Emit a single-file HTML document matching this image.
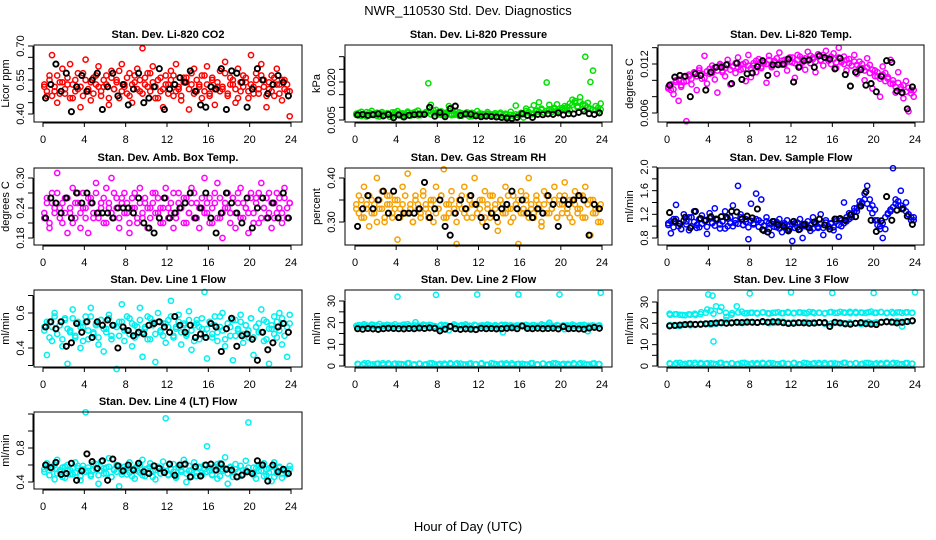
<!DOCTYPE html>
<html><head><meta charset="utf-8"><style>
body{margin:0;background:#fff;}
svg{display:block;font-family:"Liberation Sans",sans-serif;}
</style></head><body>
<svg id="chart" width="936" height="540" viewBox="0 0 936 540" xmlns="http://www.w3.org/2000/svg">
<rect width="936" height="540" fill="#fff"/>
<text x="468" y="15" text-anchor="middle" font-size="13">NWR_110530  Std. Dev. Diagnostics</text>
<text x="468" y="531" text-anchor="middle" font-size="13">Hour of Day (UTC)</text>
</svg>
<script>
const xTicks = [0,4,8,12,16,20,24];
const co2Vals = [0.52,0.48,0.57,0.66,0.50,0.45,0.54,0.60,0.49,0.53,0.62,0.47,0.55,0.51,0.43,0.58,0.64,0.50,0.46,0.56,0.53,0.61,0.48,0.52,0.57,0.44,0.59,0.51,0.55,0.47,0.62,0.53,0.49,0.58,0.45,0.54,0.60,0.50,0.69,0.56,0.52,0.58,0.61,0.47,0.55,0.50,0.43,0.57,0.53,0.59,0.48,0.62,0.51,0.46,0.56,0.54,0.42,0.58,0.60,0.50,0.53,0.47,0.57,0.61,0.49,0.55,0.44,0.52,0.59,0.51,0.63,0.48,0.56,0.53,0.45,0.60,0.50,0.57,0.54,0.47,0.66,0.52,0.58,0.49,0.62,0.55,0.43,0.51,0.57,0.48,0.60,0.53,0.46,0.55,0.50,0.39];
const co2Vals2 = [0.53,0.50,0.55,0.48,0.52,0.57,0.49,0.54,0.51,0.56,0.47,0.53,0.50,0.58,0.52,0.48,0.55,0.51,0.54,0.49,0.57,0.52,0.50,0.55,0.53,0.47,0.56,0.51,0.54,0.59,0.50,0.52,0.56,0.48,0.53,0.57,0.51,0.55,0.49,0.53,0.58,0.50,0.54,0.52,0.47,0.56,0.51,0.53,0.49,0.55,0.57,0.50,0.52,0.48,0.54,0.56,0.51,0.53,0.49,0.55,0.52,0.57,0.50,0.53,0.48,0.56,0.51,0.54,0.50,0.52,0.58,0.49,0.53,0.55,0.51,0.47,0.54,0.52,0.56,0.50,0.53,0.49,0.55,0.51,0.57,0.52,0.48,0.54,0.50,0.56,0.53,0.49,0.55,0.51,0.53,0.50];
const co2Avg = [0.47,0.53,0.62,0.50,0.58,0.41,0.52,0.57,0.50,0.55,0.58,0.42,0.52,0.58,0.48,0.53,0.44,0.51,0.58,0.45,0.47,0.52,0.60,0.42,0.51,0.53,0.56,0.54,0.59,0.50,0.44,0.43,0.52,0.51,0.60,0.42,0.59,0.58,0.54,0.43,0.51,0.60,0.55,0.49,0.53,0.57,0.54,0.48];
const presVals = [0.0075,0.0068,0.0082,0.0071,0.0064,0.0079,0.0086,0.0070,0.0066,0.0077,0.0081,0.0069,0.0074,0.0063,0.0080,0.0072,0.0085,0.0068,0.0076,0.0070,0.0083,0.0066,0.0078,0.0073,0.0087,0.0069,0.0075,0.0081,0.0195,0.0110,0.0077,0.0090,0.0072,0.0084,0.0068,0.0079,0.0105,0.0074,0.0070,0.0083,0.0066,0.0076,0.0072,0.0080,0.0064,0.0078,0.0071,0.0085,0.0069,0.0074,0.0067,0.0081,0.0073,0.0070,0.0077,0.0063,0.0079,0.0068,0.0075,0.0062,0.0082,0.0066,0.0107,0.0071,0.0076,0.0060,0.0095,0.0081,0.0072,0.0108,0.0085,0.0120,0.0090,0.0079,0.0198,0.0110,0.0088,0.0094,0.0112,0.0083,0.0097,0.0105,0.0089,0.0115,0.0130,0.0125,0.0099,0.0140,0.0092,0.0300,0.0118,0.0200,0.0245,0.0105,0.0098,0.0115];
const presVals2 = [0.0070,0.0078,0.0066,0.0073,0.0081,0.0068,0.0075,0.0071,0.0079,0.0064,0.0074,0.0069,0.0077,0.0072,0.0067,0.0080,0.0070,0.0076,0.0065,0.0073,0.0078,0.0069,0.0074,0.0082,0.0068,0.0075,0.0071,0.0079,0.0084,0.0072,0.0088,0.0076,0.0081,0.0070,0.0078,0.0073,0.0085,0.0069,0.0076,0.0072,0.0080,0.0067,0.0074,0.0070,0.0077,0.0065,0.0073,0.0069,0.0076,0.0071,0.0068,0.0074,0.0066,0.0072,0.0070,0.0065,0.0073,0.0068,0.0071,0.0064,0.0070,0.0067,0.0072,0.0069,0.0078,0.0072,0.0085,0.0080,0.0091,0.0076,0.0088,0.0083,0.0095,0.0079,0.0086,0.0092,0.0081,0.0098,0.0087,0.0084,0.0090,0.0096,0.0102,0.0088,0.0110,0.0118,0.0105,0.0122,0.0112,0.0108,0.0100,0.0095,0.0090,0.0088,0.0085,0.0092];
const presAvg = [0.0070,0.0072,0.0068,0.0071,0.0074,0.0066,0.0072,0.0059,0.0070,0.0062,0.0069,0.0071,0.0073,0.0072,0.0100,0.0065,0.0080,0.0063,0.0095,0.0105,0.0068,0.0074,0.0073,0.0066,0.0063,0.0065,0.0064,0.0062,0.0060,0.0058,0.0056,0.0060,0.0075,0.0068,0.0060,0.0072,0.0071,0.0074,0.0072,0.0078,0.0070,0.0075,0.0074,0.0080,0.0085,0.0075,0.0072,0.0078];
const tempVals = [0.0090,0.0088,0.0083,0.0100,0.0075,0.0092,0.0098,0.0050,0.0105,0.0095,0.0110,0.0088,0.0115,0.0102,0.0130,0.0096,0.0108,0.0118,0.0101,0.0085,0.0120,0.0112,0.0105,0.0125,0.0095,0.0117,0.0109,0.0128,0.0113,0.0120,0.0099,0.0131,0.0104,0.0118,0.0110,0.0126,0.0115,0.0121,0.0097,0.0130,0.0116,0.0124,0.0108,0.0134,0.0119,0.0125,0.0112,0.0128,0.0122,0.0103,0.0131,0.0117,0.0126,0.0113,0.0135,0.0121,0.0128,0.0110,0.0132,0.0124,0.0118,0.0136,0.0127,0.0120,0.0133,0.0115,0.0140,0.0122,0.0129,0.0112,0.0126,0.0118,0.0131,0.0108,0.0123,0.0115,0.0100,0.0127,0.0119,0.0090,0.0112,0.0105,0.0080,0.0117,0.0109,0.0102,0.0125,0.0096,0.0085,0.0110,0.0092,0.0078,0.0099,0.0062,0.0088,0.0080];
const tempVals2 = [0.0092,0.0095,0.0089,0.0098,0.0101,0.0094,0.0104,0.0099,0.0107,0.0102,0.0109,0.0105,0.0112,0.0108,0.0103,0.0111,0.0114,0.0109,0.0116,0.0112,0.0118,0.0110,0.0115,0.0120,0.0113,0.0117,0.0121,0.0116,0.0119,0.0114,0.0122,0.0118,0.0115,0.0121,0.0124,0.0119,0.0117,0.0123,0.0120,0.0125,0.0118,0.0122,0.0127,0.0121,0.0124,0.0119,0.0126,0.0123,0.0128,0.0121,0.0125,0.0129,0.0122,0.0127,0.0124,0.0130,0.0126,0.0123,0.0129,0.0125,0.0131,0.0127,0.0124,0.0129,0.0126,0.0122,0.0128,0.0124,0.0120,0.0125,0.0121,0.0118,0.0123,0.0119,0.0115,0.0120,0.0112,0.0116,0.0109,0.0113,0.0105,0.0110,0.0102,0.0107,0.0099,0.0104,0.0096,0.0100,0.0092,0.0097,0.0089,0.0094,0.0086,0.0091,0.0084,0.0088];
const tempAvg = [0.0094,0.0104,0.0106,0.0105,0.0080,0.0108,0.0106,0.0088,0.0110,0.0116,0.0116,0.0119,0.0096,0.0121,0.0101,0.0108,0.0109,0.0117,0.0124,0.0106,0.0119,0.0119,0.0120,0.0126,0.0098,0.0116,0.0124,0.0125,0.0116,0.0130,0.0128,0.0126,0.0114,0.0127,0.0107,0.0093,0.0110,0.0113,0.0094,0.0096,0.0086,0.0105,0.0124,0.0122,0.0087,0.0085,0.0065,0.0092];
const ambVals = [0.22,0.25,0.20,0.27,0.23,0.31,0.24,0.21,0.26,0.19,0.23,0.28,0.22,0.25,0.20,0.27,0.24,0.19,0.26,0.22,0.29,0.23,0.25,0.21,0.28,0.24,0.30,0.22,0.26,0.20,0.25,0.27,0.23,0.19,0.26,0.24,0.21,0.28,0.22,0.25,0.20,0.24,0.27,0.23,0.26,0.21,0.24,0.28,0.22,0.25,0.20,0.23,0.27,0.24,0.21,0.26,0.23,0.28,0.22,0.25,0.20,0.24,0.30,0.23,0.26,0.21,0.25,0.29,0.22,0.18,0.24,0.27,0.23,0.26,0.20,0.25,0.28,0.22,0.24,0.19,0.27,0.23,0.26,0.21,0.29,0.24,0.22,0.27,0.20,0.25,0.23,0.26,0.21,0.28,0.24,0.25];
const ambVals2 = [0.23,0.26,0.21,0.25,0.24,0.27,0.22,0.25,0.23,0.26,0.24,0.21,0.25,0.27,0.23,0.24,0.22,0.26,0.25,0.23,0.27,0.22,0.24,0.26,0.21,0.25,0.23,0.27,0.24,0.22,0.26,0.23,0.25,0.21,0.24,0.27,0.22,0.25,0.23,0.26,0.24,0.22,0.25,0.27,0.23,0.24,0.21,0.26,0.24,0.23,0.27,0.22,0.25,0.24,0.26,0.21,0.23,0.25,0.27,0.22,0.24,0.26,0.23,0.25,0.21,0.24,0.27,0.22,0.26,0.23,0.25,0.24,0.21,0.26,0.23,0.27,0.22,0.25,0.24,0.23,0.26,0.21,0.25,0.27,0.22,0.24,0.26,0.23,0.25,0.22,0.27,0.24,0.23,0.26,0.22,0.25];
const ambAvg = [0.22,0.26,0.25,0.23,0.26,0.22,0.27,0.25,0.27,0.25,0.23,0.23,0.23,0.22,0.24,0.24,0.24,0.23,0.26,0.21,0.20,0.19,0.22,0.26,0.22,0.23,0.24,0.25,0.27,0.22,0.24,0.27,0.22,0.19,0.23,0.27,0.25,0.23,0.21,0.26,0.20,0.24,0.26,0.22,0.25,0.22,0.27,0.22];
const rhVals = [0.33,0.36,0.31,0.38,0.34,0.29,0.35,0.32,0.40,0.33,0.37,0.30,0.34,0.36,0.31,0.35,0.26,0.33,0.38,0.32,0.41,0.34,0.30,0.36,0.33,0.31,0.37,0.34,0.32,0.35,0.30,0.38,0.33,0.36,0.42,0.31,0.34,0.37,0.32,0.25,0.35,0.33,0.38,0.31,0.36,0.34,0.40,0.32,0.35,0.30,0.37,0.33,0.31,0.36,0.34,0.28,0.35,0.32,0.38,0.33,0.30,0.36,0.34,0.25,0.37,0.32,0.35,0.40,0.33,0.31,0.36,0.34,0.29,0.37,0.32,0.35,0.33,0.38,0.31,0.36,0.34,0.39,0.32,0.35,0.30,0.37,0.33,0.36,0.31,0.38,0.34,0.27,0.35,0.32,0.33,0.30];
const rhVals2 = [0.34,0.32,0.35,0.31,0.33,0.36,0.32,0.34,0.30,0.35,0.33,0.31,0.36,0.34,0.32,0.33,0.35,0.31,0.34,0.36,0.32,0.33,0.30,0.35,0.34,0.32,0.36,0.33,0.31,0.34,0.35,0.32,0.33,0.36,0.31,0.34,0.32,0.35,0.33,0.30,0.34,0.36,0.32,0.33,0.35,0.31,0.34,0.32,0.33,0.35,0.31,0.34,0.36,0.32,0.33,0.30,0.35,0.34,0.32,0.36,0.33,0.31,0.34,0.35,0.32,0.33,0.36,0.31,0.34,0.32,0.35,0.33,0.30,0.34,0.36,0.32,0.33,0.35,0.31,0.34,0.32,0.36,0.33,0.31,0.35,0.34,0.32,0.33,0.36,0.31,0.34,0.35,0.32,0.33,0.30,0.34];
const rhAvg = [0.29,0.33,0.36,0.33,0.35,0.37,0.32,0.37,0.31,0.32,0.32,0.32,0.33,0.39,0.31,0.33,0.35,0.29,0.27,0.32,0.35,0.33,0.36,0.34,0.31,0.29,0.32,0.31,0.33,0.34,0.37,0.33,0.35,0.32,0.31,0.33,0.32,0.36,0.34,0.29,0.35,0.34,0.35,0.36,0.35,0.27,0.34,0.33];
const sfVals = [1.05,0.88,1.12,1.36,1.00,0.95,1.20,1.08,0.93,1.15,1.25,1.02,0.98,1.18,1.10,0.87,1.22,1.05,1.30,1.12,0.96,1.08,1.25,1.00,1.15,1.35,1.05,1.68,1.20,1.02,1.12,0.78,1.38,1.05,1.55,1.10,1.45,0.92,1.15,1.05,0.85,1.08,0.98,1.12,0.90,1.02,1.10,0.95,0.75,1.05,0.98,1.12,0.80,1.00,1.08,0.92,1.15,1.03,0.97,1.20,0.85,1.10,0.99,1.05,0.93,1.12,0.82,1.00,1.40,1.08,1.22,1.15,1.30,1.25,1.42,1.38,1.55,1.68,1.45,1.35,1.28,1.10,1.00,0.80,0.95,1.20,1.25,1.98,1.45,1.35,1.60,1.30,1.40,1.20,1.10,1.15];
const sfVals2 = [1.02,1.08,0.98,1.12,1.05,0.95,1.10,1.03,1.15,1.00,1.07,0.97,1.12,1.04,1.09,0.99,1.14,1.06,1.01,1.11,1.03,1.08,0.96,1.13,1.05,1.00,1.10,1.04,1.15,1.02,1.07,0.98,1.09,1.03,1.12,0.99,1.06,1.01,1.08,0.95,1.04,0.99,1.07,0.96,1.02,1.05,0.94,1.00,1.03,0.97,1.06,0.95,1.01,1.04,0.98,1.02,0.96,1.05,0.99,1.03,0.97,1.06,1.00,1.04,0.98,1.08,1.02,1.10,1.05,1.15,1.12,1.20,1.25,1.30,1.35,1.40,1.45,1.38,1.30,1.22,1.10,1.02,0.95,1.05,1.15,1.22,1.28,1.32,1.38,1.42,1.35,1.30,1.25,1.20,1.15,1.10];
const sfAvg = [1.23,1.08,1.04,1.15,0.97,1.25,1.13,1.10,1.16,1.12,1.16,1.15,1.25,1.24,1.12,1.17,1.14,1.29,0.94,0.90,1.08,1.02,1.00,0.92,1.08,0.94,1.03,0.97,1.07,1.12,1.02,0.95,1.12,1.13,1.10,1.19,1.16,1.34,1.58,1.10,0.91,1.09,1.50,1.10,1.27,1.29,1.17,1.03];
const l1Vals = [0.52,0.36,0.55,0.44,0.60,0.48,0.53,0.41,0.57,0.31,0.50,0.62,0.46,0.55,0.40,0.52,0.58,0.45,0.63,0.49,0.54,0.42,0.56,0.38,0.51,0.59,0.47,0.53,0.28,0.55,0.65,0.44,0.50,0.57,0.41,0.53,0.48,0.63,0.35,0.52,0.58,0.45,0.55,0.32,0.60,0.49,0.54,0.43,0.56,0.67,0.47,0.52,0.59,0.42,0.54,0.48,0.61,0.39,0.53,0.56,0.45,0.51,0.72,0.34,0.55,0.48,0.58,0.44,0.52,0.60,0.41,0.54,0.47,0.33,0.56,0.50,0.59,0.43,0.53,0.46,0.57,0.36,0.52,0.49,0.62,0.44,0.55,0.31,0.51,0.58,0.46,0.60,0.42,0.54,0.35,0.59];
const l1Vals2 = [0.50,0.55,0.46,0.52,0.58,0.48,0.53,0.45,0.56,0.51,0.49,0.57,0.47,0.54,0.52,0.44,0.55,0.50,0.58,0.48,0.53,0.46,0.56,0.51,0.49,0.57,0.45,0.53,0.52,0.47,0.55,0.50,0.58,0.48,0.54,0.46,0.52,0.56,0.49,0.51,0.45,0.57,0.53,0.48,0.55,0.50,0.47,0.54,0.52,0.58,0.46,0.51,0.55,0.49,0.53,0.47,0.56,0.50,0.44,0.54,0.52,0.57,0.48,0.51,0.55,0.46,0.53,0.49,0.58,0.50,0.45,0.54,0.52,0.56,0.47,0.51,0.55,0.48,0.53,0.50,0.57,0.46,0.52,0.54,0.49,0.56,0.45,0.51,0.53,0.48,0.55,0.50,0.57,0.47,0.52,0.54];
const l1Avg = [0.52,0.55,0.51,0.55,0.41,0.43,0.54,0.49,0.55,0.46,0.55,0.53,0.56,0.53,0.40,0.52,0.50,0.47,0.49,0.48,0.53,0.54,0.55,0.52,0.49,0.58,0.53,0.49,0.53,0.46,0.48,0.46,0.54,0.52,0.38,0.51,0.57,0.41,0.47,0.48,0.45,0.33,0.49,0.39,0.43,0.52,0.54,0.49];
const l2Vals = [18.5,18.9,18.2,19.3,18.7,18.0,19.1,18.4,18.8,19.4,18.3,18.6,19.0,18.1,18.7,19.2,32.0,18.5,18.9,18.2,19.3,18.6,18.0,20.2,18.8,18.4,19.1,18.7,18.3,18.9,18.2,32.8,17.2,19.0,18.5,18.8,16.5,18.3,19.2,18.6,18.4,18.9,18.1,18.7,18.6,17.6,19.0,33.0,18.5,18.8,18.2,19.1,18.7,18.4,18.9,18.0,18.6,15.5,19.0,18.3,18.8,18.5,18.2,33.0,18.7,18.4,19.0,18.6,18.1,18.9,18.5,18.3,19.2,18.7,18.4,20.0,18.6,18.2,18.9,33.0,18.5,17.0,18.8,18.3,19.1,18.6,18.4,18.9,18.2,18.7,16.0,18.5,18.8,18.3,18.6,33.8];
const l2Vals2 = [18.2,18.8,18.5,19.0,18.4,18.7,18.9,18.3,18.6,19.1,18.5,18.8,18.2,18.7,19.0,18.4,18.6,18.9,18.3,18.8,18.5,19.2,18.4,18.7,18.6,18.9,18.3,18.5,19.0,18.7,18.4,18.8,18.6,18.2,18.9,18.5,18.7,19.1,18.4,18.6,18.8,18.3,18.7,18.5,19.0,18.6,18.4,18.8];
const l2Low = [1.0,0.6,1.3,0.8,1.1,0.5,1.2,0.9,1.0,0.7,1.3,0.8,1.1,0.6,1.2,0.9,1.0,0.5,1.3,0.8,1.1,0.7,1.2,0.9,1.0,0.6,1.3,0.8,1.1,0.5,1.2,0.9,1.0,0.7,1.3,0.8,1.1,0.6,1.2,0.9,1.0,0.5,1.3,0.8,1.1,0.7,1.2,0.9];
const l2Low2 = [0.8,1.2,0.6,1.0,1.3,0.7,1.1,0.9,1.2,0.5,1.0,0.8,1.3,0.6,1.1,0.9,1.2,0.7,1.0,0.8,1.3,0.6,1.1,0.9,1.2,0.5,1.0,0.8,1.3,0.7,1.1,0.9,1.2,0.6,1.0,0.8,1.3,0.7,1.1,0.9];
const l2Avg = [17.2,17.0,17.3,17.1,16.9,17.2,17.4,17.3,17.2,17.1,17.3,17.2,17.5,17.3,17.6,17.4,16.2,17.0,18.3,17.2,16.9,17.1,17.0,16.8,17.4,17.2,17.3,17.1,17.2,17.4,17.6,17.2,18.5,17.3,17.2,17.4,17.2,17.3,17.4,17.1,18.2,17.2,17.3,17.1,17.0,17.5,17.8,17.4];
const l3High = [24.5,24.2,24.0,23.8,24.1,23.9,24.3,25.0,26.0,28.0,27.5,23.0,24.0,28.0,25.5,24.8,25.0,24.6,25.1,24.7,24.9,25.2,24.8,25.0,24.7,25.1,24.9,25.3,24.8,25.0,24.6,25.2,24.9,25.4,25.0,24.8,25.3,25.1,24.9,25.5,25.0,25.2,24.8,25.3,25.1,24.9,25.2,25.0];
const l3High2 = [24.0,24.3,23.9,24.2,24.5,25.2,26.5,24.5,25.8,25.0,24.8,25.1,24.7,25.0,24.9,25.2,24.6,25.0,24.8,25.3,24.9,25.1,24.7,25.2,25.0,24.8,25.3,24.9,25.1,25.4,24.8,25.0,25.2,24.9,25.3,25.0,24.8,25.2,25.1,24.9];
const l3Mid = [19.0,19.2,18.8,19.4,19.1,19.5,19.3,19.6,19.4,19.8,20.0,21.5,20.2,20.5,20.1,20.4,20.6,20.3,20.8,20.5,20.2,21.0,20.7,20.4,20.6,20.3,20.5,20.1,20.4,20.6,19.8,18.5,20.2,20.0,19.6,19.8,20.1,19.7,20.3,20.0,20.4,20.6,20.9,20.5,21.0,18.5,20.8,21.2];
const l3Mid2 = [19.2,18.9,19.3,19.5,19.2,19.6,19.8,20.0,20.3,20.1,20.5,20.2,20.4,20.6,20.3,20.5,20.1,20.4,20.7,20.2,20.5,20.3,20.6,20.4,20.2,20.5,19.9,20.3,20.1,20.4,20.0,20.3,20.6,20.2,20.5,20.8,20.4,20.7,20.9,21.0];
const l3Low = [1.2,0.8,1.5,1.0,1.3,0.7,1.4,1.1,1.2,0.9,1.5,1.0,1.3,0.8,1.4,1.1,1.2,0.7,1.5,1.0,1.3,0.9,1.4,1.1,1.2,0.8,1.5,1.0,1.3,0.7,1.4,1.1,1.2,0.9,1.5,1.0,1.3,0.8,1.4,1.1,1.2,0.7,1.5,1.0,1.3,0.9,1.4,1.1];
const l3Low2 = [1.0,1.4,0.8,1.2,1.5,0.9,1.3,1.1,1.4,0.7,1.2,1.0,1.5,0.8,1.3,1.1,1.4,0.9,1.2,1.0,1.5,0.8,1.3,1.1,1.4,0.7,1.2,1.0,1.5,0.9,1.3,1.1,1.4,0.8,1.2,1.0,1.5,0.9,1.3,1.1];
const l3OutHours = [4.0,4.4,4.5,8,12,16,20,24];
const l3OutVals = [33.5,33.0,11.5,34.0,34.5,34.2,34.2,34.5];
const l3Avg = [18.8,19.0,19.2,19.4,19.6,19.5,19.6,19.8,19.9,20.1,20.3,20.0,20.2,20.5,20.4,20.6,20.5,20.4,20.8,20.5,20.7,20.6,20.3,19.9,20.0,20.3,20.2,20.0,20.1,20.4,20.3,18.5,20.5,20.2,19.8,19.6,20.0,20.3,19.8,19.6,19.4,20.5,20.7,20.6,20.2,20.5,20.8,21.2];
const l4Vals = [0.55,0.62,0.48,0.58,0.43,0.66,0.52,0.57,0.45,0.60,0.54,0.49,0.63,0.56,0.42,0.59,1.22,0.53,0.47,0.61,0.55,0.38,0.64,0.50,0.57,0.68,0.46,0.54,0.60,0.35,0.52,0.58,0.49,0.63,0.55,0.44,0.59,0.51,0.66,0.47,0.56,0.62,0.53,0.43,0.58,0.50,0.64,1.15,0.48,0.55,0.61,0.45,0.57,0.52,0.66,0.40,0.59,0.54,0.63,0.47,0.56,0.51,0.60,0.82,0.53,0.48,0.58,0.44,0.62,0.55,0.69,0.38,0.57,0.52,0.61,0.46,0.59,0.54,0.65,1.10,0.51,0.57,0.44,0.60,0.53,0.62,0.48,0.56,0.41,0.63,0.50,0.58,0.45,0.55,0.52,0.59];
const l4Vals2 = [0.52,0.57,0.48,0.55,0.60,0.50,0.54,0.46,0.58,0.53,0.49,0.56,0.51,0.59,0.47,0.55,0.52,0.57,0.49,0.54,0.61,0.48,0.53,0.56,0.50,0.58,0.46,0.55,0.52,0.59,0.49,0.54,0.57,0.51,0.47,0.56,0.53,0.60,0.48,0.55,0.51,0.58,0.46,0.54,0.57,0.50,0.53,0.59,0.49,0.55,0.52,0.47,0.57,0.54,0.60,0.50,0.53,0.46,0.56,0.51,0.58,0.48,0.55,0.52,0.57,0.49,0.54,0.61,0.47,0.53,0.56,0.50,0.58,0.46,0.55,0.52,0.59,0.49,0.54,0.57,0.51,0.48,0.56,0.53,0.60,0.47,0.55,0.51,0.58,0.46,0.54,0.57,0.50,0.53,0.49,0.55];
const l4Avg = [0.60,0.57,0.63,0.49,0.50,0.62,0.42,0.53,0.73,0.64,0.56,0.65,0.42,0.67,0.59,0.53,0.60,0.54,0.62,0.52,0.50,0.59,0.56,0.51,0.61,0.48,0.60,0.61,0.46,0.58,0.47,0.60,0.61,0.54,0.61,0.55,0.54,0.46,0.48,0.52,0.50,0.65,0.60,0.41,0.60,0.52,0.55,0.50];

const NS = "http://www.w3.org/2000/svg";
const svg = document.getElementById('chart');
const cols = [{bx0:34,bx1:302,x0:43,x24:291},{bx0:345,bx1:612,x0:355,x24:602},{bx0:658,bx1:924,x0:667,x24:915}];
const rows = [{by0:45,by1:122},{by0:168,by1:245},{by0:290,by1:367},{by0:412,by1:489}];
function mk(tag, attrs, parent){const e=document.createElementNS(NS,tag);for(const k in attrs)e.setAttribute(k,attrs[k]);(parent||svg).appendChild(e);return e;}

function panel(p){
  const c=cols[p.col], r=rows[p.row];
  const g=mk('g',{});
  
  
  const xs=h=>c.x0+(c.x24-c.x0)*h/24;
  const ys=v=>p.p0+(p.p1-p.p0)*(v-p.v0)/(p.v1-p.v0);
  const t=mk('text',{x:(c.bx0+c.bx1)/2,y:r.by0-7,'text-anchor':'middle','font-size':'11','font-weight':'bold'},g);
  t.textContent=p.title;
  
  
  const series=(vals,color,sw,nm,hours)=>{
    const sg=mk('g',{fill:'none',stroke:color,'stroke-width':sw},g);
    
    
    vals.forEach((v,i)=>{
      const h=hours?hours[i]:(i+0.5)*24/vals.length;
      const cy=ys(v);
      if(cy<r.by0-2||cy>r.by1+2)return;
      const ci=mk('circle',{cx:xs(h).toFixed(1),cy:cy.toFixed(1),r:2.6},sg);
      
      
    });
  };
  p.colored.forEach(s=>series(s,p.color,1.5,p.name+'-samples'));
  if(p.extra) series(p.extra[1],p.color,1.5,p.name+'-outliers',p.extra[0]);
  series(p.avg,'#000',1.9,p.name+'-averages');
  const box=mk('rect',{x:c.bx0,y:r.by0,width:c.bx1-c.bx0,height:r.by1-r.by0,fill:'none',stroke:'#000','stroke-width':1},g);
  
  
  const xa=mk('g',{},g);
  
  
  mk('line',{x1:xs(0),x2:xs(24),y1:r.by1+1,y2:r.by1+1,stroke:'#000'},xa);
  xTicks.forEach(h=>{
    mk('line',{x1:xs(h),x2:xs(h),y1:r.by1,y2:r.by1+5,stroke:'#000'},xa);
    const tl=mk('text',{x:xs(h),y:r.by1+21,'text-anchor':'middle','font-size':'11'},xa);
    tl.textContent=h;
  });
  const ya=mk('g',{},g);
  
  
  const ax=c.bx0-1;
  mk('line',{x1:ax,x2:ax,y1:ys(p.ticks[0]),y2:ys(p.ticks[p.ticks.length-1]),stroke:'#000'},ya);
  p.ticks.forEach(v=>{
    const y=ys(v);
    mk('line',{x1:ax-5,x2:ax,y1:y,y2:y,stroke:'#000'},ya);
  });
  p.labels.forEach((lab,i)=>{
    const y=ys(p.labelVals[i]);
    const tl=mk('text',{x:ax-9,y:y,'text-anchor':'middle','font-size':'11',transform:`rotate(-90 ${ax-9} ${y})`},ya);
    tl.textContent=lab;
  });
  const yt=mk('text',{x:c.bx0-25,y:(r.by0+r.by1)/2,'text-anchor':'middle','font-size':'11',transform:`rotate(-90 ${c.bx0-25} ${(r.by0+r.by1)/2})`},g);
  yt.textContent=p.ytitle;
  
  
}

panel({name:'co2',col:0,row:0,title:'Stan. Dev. Li-820 CO2',ytitle:'Licor ppm',color:'#ff0000',colored:[co2Vals,co2Vals2],avg:co2Avg,v0:0.40,p0:114,v1:0.70,p1:46,ticks:[0.40,0.45,0.50,0.55,0.60,0.65,0.70],labels:['0.40','0.55','0.70'],labelVals:[0.40,0.55,0.70]});
panel({name:'pressure',col:1,row:0,title:'Stan. Dev. Li-820 Pressure',ytitle:'kPa',color:'#00e000',colored:[presVals,presVals2],avg:presAvg,v0:0.005,p0:120,v1:0.020,p1:82,ticks:[0.005,0.010,0.015,0.020,0.025,0.030],labels:['0.005','0.020'],labelVals:[0.005,0.020]});
panel({name:'li820-temp',col:2,row:0,title:'Stan. Dev. Li-820 Temp.',ytitle:'degrees C',color:'#ff00ff',colored:[tempVals,tempVals2],avg:tempAvg,v0:0.006,p0:113,v1:0.012,p1:64,ticks:[0.006,0.008,0.010,0.012,0.014],labels:['0.006','0.012'],labelVals:[0.006,0.012]});
panel({name:'amb-box-temp',col:0,row:1,title:'Stan. Dev. Amb. Box Temp.',ytitle:'degrees C',color:'#ff00ff',colored:[ambVals,ambVals2],avg:ambAvg,v0:0.18,p0:238,v1:0.30,p1:178,ticks:[0.18,0.21,0.24,0.27,0.30],labels:['0.18','0.24','0.30'],labelVals:[0.18,0.24,0.30]});
panel({name:'gas-stream-rh',col:1,row:1,title:'Stan. Dev. Gas Stream RH',ytitle:'percent',color:'#f5a000',colored:[rhVals,rhVals2],avg:rhAvg,v0:0.30,p0:222,v1:0.40,p1:178,ticks:[0.30,0.35,0.40],labels:['0.30','0.40'],labelVals:[0.30,0.40]});
panel({name:'sample-flow',col:2,row:1,title:'Stan. Dev. Sample Flow',ytitle:'ml/min',color:'#0000ff',colored:[sfVals,sfVals2],avg:sfAvg,v0:0.8,p0:238,v1:2.0,p1:167,ticks:[0.8,1.0,1.2,1.4,1.6,1.8,2.0],labels:['0.8','1.2','1.6','2.0'],labelVals:[0.8,1.2,1.6,2.0]});
panel({name:'line1-flow',col:0,row:2,title:'Stan. Dev. Line 1 Flow',ytitle:'ml/min',color:'#00f0f0',colored:[l1Vals,l1Vals2],avg:l1Avg,v0:0.4,p0:348,v1:0.6,p1:313,ticks:[0.3,0.4,0.5,0.6,0.7],labels:['0.4','0.6'],labelVals:[0.4,0.6]});
panel({name:'line2-flow',col:1,row:2,title:'Stan. Dev. Line 2 Flow',ytitle:'ml/min',color:'#00f0f0',colored:[l2Vals,l2Vals2,l2Low,l2Low2],avg:l2Avg,v0:0,p0:366,v1:30,p1:301,ticks:[0,5,10,15,20,25,30],labels:['0','10','20','30'],labelVals:[0,10,20,30]});
panel({name:'line3-flow',col:2,row:2,title:'Stan. Dev. Line 3 Flow',ytitle:'ml/min',color:'#00f0f0',colored:[l3High,l3High2,l3Mid,l3Mid2,l3Low,l3Low2],extra:[l3OutHours,l3OutVals],avg:l3Avg,v0:0,p0:366,v1:30,p1:302,ticks:[0,5,10,15,20,25,30],labels:['0','10','20','30'],labelVals:[0,10,20,30]});
panel({name:'line4-flow',col:0,row:3,title:'Stan. Dev. Line 4 (LT) Flow',ytitle:'ml/min',color:'#00f0f0',colored:[l4Vals,l4Vals2],avg:l4Avg,v0:0.4,p0:482,v1:0.8,p1:448,ticks:[0.4,0.6,0.8,1.0,1.2],labels:['0.4','0.8'],labelVals:[0.4,0.8]});
</script>
</body></html>
